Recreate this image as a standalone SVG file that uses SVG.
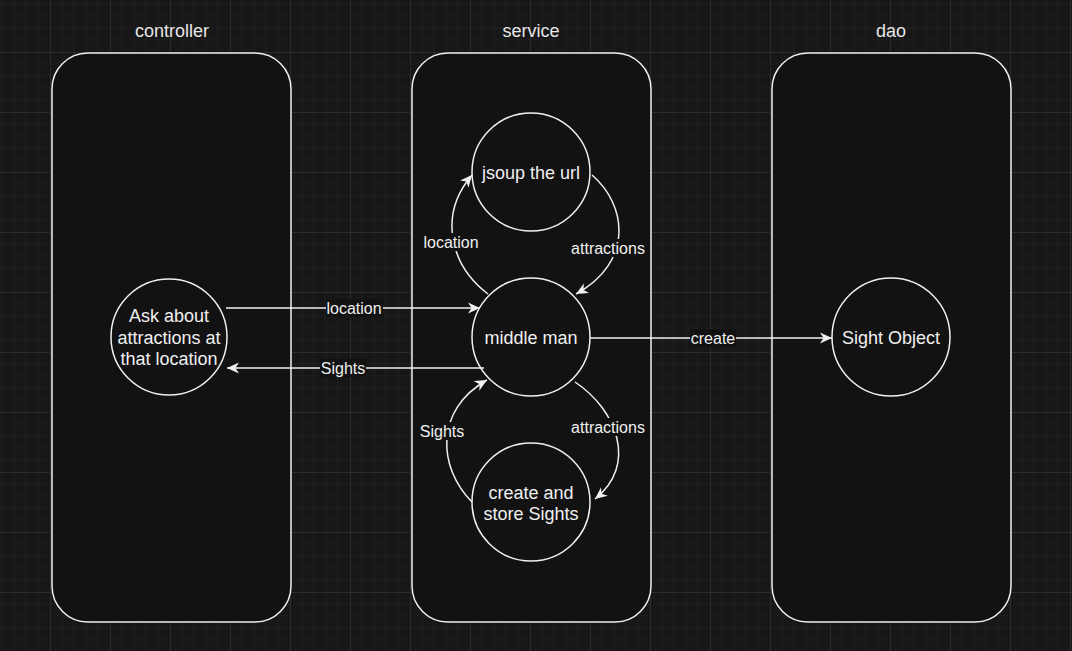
<svg xmlns="http://www.w3.org/2000/svg" width="1072" height="651" viewBox="0 0 1072 651">
<defs>
<pattern id="grid" patternUnits="userSpaceOnUse" x="50" y="52" width="60" height="60">
<path d="M12 0V60M24 0V60M36 0V60M48 0V60M0 12H60M0 24H60M0 36H60M0 48H60" stroke="#1f1f1f" stroke-width="1" fill="none"/>
<path d="M0.5 0V60M0 0.5H60" stroke="#2b2b2b" stroke-width="1" fill="none"/>
</pattern>
<marker id="arr" markerUnits="userSpaceOnUse" markerWidth="14" markerHeight="12" refX="12" refY="6" orient="auto" viewBox="0 0 14 12">
<path d="M0 0.5 L12 6 L0 11.5 L3.5 6 Z" fill="#f0f0f0"/>
</marker>
</defs>
<style>
.lane{fill:#121212;stroke:#f0f0f0;stroke-width:1.5}
.node{fill:#121212;stroke:#f0f0f0;stroke-width:1.5}
.t{font-family:"Liberation Sans",Arial,sans-serif;font-size:18px;fill:#f0f0f0;text-anchor:middle;dominant-baseline:central}
.hdr{font-family:"Liberation Sans",Arial,sans-serif;font-size:18px;fill:#e6e6e6;text-anchor:middle;dominant-baseline:central}
.el{font-family:"Liberation Sans",Arial,sans-serif;font-size:16px;fill:#f0f0f0;text-anchor:middle;dominant-baseline:central}
.e{fill:none;stroke:#f0f0f0;stroke-width:1.5;marker-end:url(#arr)}
.lb{fill:#121212}
</style>
<rect width="1072" height="651" fill="#171717"/>
<rect width="1072" height="651" fill="url(#grid)"/>

<g id="lane-controller">
<rect class="lane" x="52" y="53" width="239" height="569" rx="36"/>
<text class="hdr" x="172" y="31">controller</text>
</g>
<g id="lane-service">
<rect class="lane" x="412" y="53" width="239" height="569" rx="36"/>
<text class="hdr" x="531" y="31">service</text>
</g>
<g id="lane-dao">
<rect class="lane" x="772" y="53" width="239" height="569" rx="36"/>
<text class="hdr" x="891" y="31">dao</text>
</g>

<g id="node-ask">
<circle class="node" cx="169" cy="337" r="58"/>
<text class="t" x="169" y="316">Ask about</text>
<text class="t" x="169" y="338">attractions at</text>
<text class="t" x="169" y="359">that location</text>
</g>
<g id="node-jsoup">
<circle class="node" cx="531" cy="172" r="59"/>
<text class="t" x="531" y="173">jsoup the url</text>
</g>
<g id="node-middle">
<circle class="node" cx="531" cy="337" r="59"/>
<text class="t" x="531" y="338">middle man</text>
</g>
<g id="node-create">
<circle class="node" cx="531" cy="502" r="59"/>
<text class="t" x="531" y="493">create and</text>
<text class="t" x="531" y="514">store Sights</text>
</g>
<g id="node-sight">
<circle class="node" cx="891" cy="337" r="59"/>
<text class="t" x="891" y="338">Sight Object</text>
</g>

<g id="connectors">
<path class="e" d="M226 308 H480"/>
<rect class="lb" x="326" y="299" width="57" height="18"/>
<text class="el" x="354" y="308">location</text>

<path class="e" d="M484 368 H227"/>
<rect class="lb" x="320" y="359" width="46" height="18"/>
<text class="el" x="343" y="368">Sights</text>

<path class="e" d="M590 338 H832"/>
<rect class="lb" x="690" y="329" width="46" height="18"/>
<text class="el" x="713" y="338">create</text>

<path class="e" d="M488 294 C450 265 438 215 472 175"/>
<rect class="lb" x="422" y="233" width="58" height="18"/>
<text class="el" x="451" y="242">location</text>

<path class="e" d="M592 175 C627 205 634 262 576 294"/>
<rect class="lb" x="570" y="239" width="77" height="18"/>
<text class="el" x="608" y="248">attractions</text>

<path class="e" d="M472 502 C438 468 434 410 487 380"/>
<rect class="lb" x="419" y="422" width="46" height="18"/>
<text class="el" x="442" y="431">Sights</text>

<path class="e" d="M575 382 C617 410 638 465 595 499"/>
<rect class="lb" x="570" y="418" width="77" height="18"/>
<text class="el" x="608" y="427">attractions</text>
</g>
</svg>
